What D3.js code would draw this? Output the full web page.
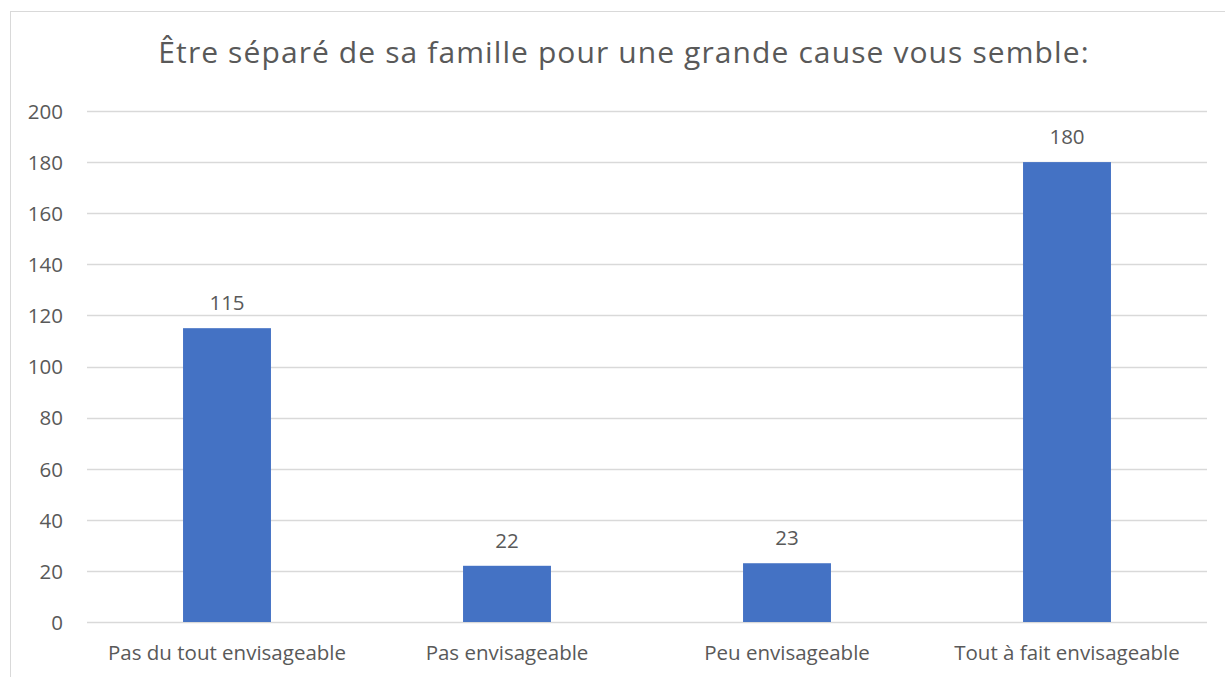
<!DOCTYPE html>
<html>
<head>
<meta charset="utf-8">
<script src="https://cdn.jsdelivr.net/npm/d3@7"></script>
<style>
  body { margin: 0; background: #fff; }
  text { font-family: "Open Sans", Lato, sans-serif; fill: #595959; }
</style>
</head>
<body>
<svg id="chart" width="1225" height="677"></svg>
<script>
// data
const categories = ['Pas du tout envisageable', 'Pas envisageable', 'Peu envisageable', 'Tout à fait envisageable'];
const values = [115, 22, 23, 180];
const yTicks = [0, 20, 40, 60, 80, 100, 120, 140, 160, 180, 200];
const title = 'Être séparé de sa famille pour une grande cause vous semble:';

const font = '"Open Sans", Lato, sans-serif';
const svg = d3.select('#chart');

// outer frame (only left and top edges are visible in the picture)
svg.append('rect')
  .attr('x', 10.5).attr('y', 11.5)
  .attr('width', 1240).attr('height', 700)
  .attr('fill', 'none')
  .attr('stroke', '#d9d9d9');

const plotL = 87, plotR = 1207, plotT = 111, plotB = 622;

const x = d3.scaleBand()
  .domain(categories)
  .range([plotL, plotR])
  .paddingInner(0.686)
  .paddingOuter(0.343);

const y = d3.scaleLinear()
  .domain([0, 200])
  .range([plotB, plotT]);

// gridlines
svg.append('g')
  .selectAll('line')
  .data(yTicks)
  .enter().append('line')
  .attr('x1', plotL).attr('x2', plotR)
  .attr('y1', d => Math.round(y(d)) + 0.5)
  .attr('y2', d => Math.round(y(d)) + 0.5)
  .attr('stroke', '#d9d9d9')
  .attr('stroke-width', 1.3);

// y axis labels
const yAxis = svg.append('g')
  .attr('transform', `translate(${plotL - 24}, 0)`)
  .call(d3.axisLeft(y).tickValues(yTicks).tickSize(0).tickPadding(0));
yAxis.select('.domain').remove();
yAxis.selectAll('text')
  .attr('dy', '0.36em')
  .style('font-size', '20.5px')
  .style('font-family', font)
  .attr('fill', '#595959');

// bars
svg.append('g')
  .selectAll('rect')
  .data(values)
  .enter().append('rect')
  .attr('x', (d, i) => x(categories[i]))
  .attr('y', d => y(d))
  .attr('width', x.bandwidth())
  .attr('height', d => y(0) - y(d))
  .attr('fill', '#4472c4');

// value labels
svg.append('g')
  .selectAll('text')
  .data(values)
  .enter().append('text')
  .attr('x', (d, i) => x(categories[i]) + x.bandwidth() / 2)
  .attr('y', d => y(d) - 18)
  .attr('text-anchor', 'middle')
  .style('font-size', '20.5px')
  .text(d => d);

// category labels
const xAxis = svg.append('g')
  .attr('transform', `translate(0, ${plotB})`)
  .call(d3.axisBottom(x).tickSize(0).tickPadding(0));
xAxis.select('.domain').remove();
xAxis.selectAll('text')
  .attr('dy', 0)
  .attr('y', 38)
  .style('font-size', '20.5px')
  .style('font-family', font)
  .attr('fill', '#595959');

// title
svg.append('text')
  .attr('x', 624)
  .attr('y', 63)
  .attr('text-anchor', 'middle')
  .style('font-size', '30px')
  .style('letter-spacing', '1.1px')
  .text(title);
</script>
</body>
</html>
